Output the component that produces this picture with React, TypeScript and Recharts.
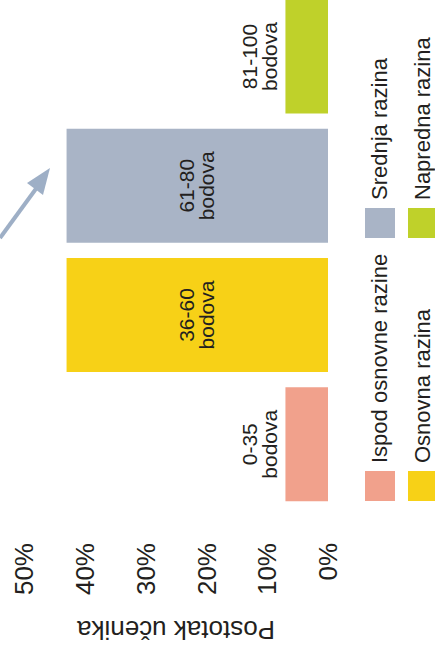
import React from 'react';
import { BarChart, Bar, XAxis, YAxis, Cell, LabelList, Legend } from 'recharts';

const categories = ['Ispod osnovne razine', 'Osnovna razina', 'Srednja razina', 'Napredna razina'];
const scoreRanges = ['0-35', '36-60', '61-80', '81-100'];
const percentages = [7, 43, 43, 7];
const barColors = ['#f1a18c', '#f7d117', '#a9b4c6', '#bfd12a'];
const yTicks = [0, 10, 20, 30, 40, 50];
const axisTitle = 'Postotak učenika';
const unitWord = 'bodova';

const data = categories.map((c, i) => ({ name: c, range: scoreRanges[i], value: percentages[i] }));

const FONT = "Arial, 'Liberation Sans', Helvetica, sans-serif";
const TEXT = '#231f20';

const BarLabel = (props: any) => {
  const { x, y, width, height, index } = props;
  const cx = Number(x) + Number(width) / 2;
  const h = Number(height);
  const top = Number(y);
  let b1: number;
  let b2: number;
  if (h < 80) {
    b2 = top - 8;
    b1 = b2 - 20;
  } else {
    const cy = top + h / 2;
    b1 = cy - 3;
    b2 = cy + 17;
  }
  return (
    <text textAnchor="middle" fontSize={21} fontFamily={FONT} fill={TEXT}>
      <tspan x={cx} y={b1}>{scoreRanges[index]}</tspan>
      <tspan x={cx} y={b2}>{unitWord}</tspan>
    </text>
  );
};

const LegendContent = () => {
  const order = [0, 2, 1, 3];
  return (
    <div
      style={{
        display: 'grid',
        gridTemplateColumns: '263px auto',
        rowGap: 13,
        fontFamily: FONT,
        fontSize: 22,
        color: TEXT,
      }}
    >
      {order.map((i) => (
        <div key={i} style={{ display: 'flex', alignItems: 'center', height: 30, whiteSpace: 'nowrap' }}>
          <span style={{ display: 'inline-block', width: 30, height: 30, background: barColors[i], marginRight: 8 }} />
          <span style={{ lineHeight: '30px' }}>{categories[i]}</span>
        </div>
      ))}
    </div>
  );
};

export default function App() {
  return (
    <div
      style={{
        position: 'fixed',
        left: 0,
        top: 0,
        width: 435,
        height: 654,
        overflow: 'hidden',
        background: '#fff',
      }}
    >
      <div
        style={{
          position: 'absolute',
          left: 0,
          top: 0,
          width: 700,
          height: 435,
          transformOrigin: '0 0',
          transform: 'translateY(654px) rotate(-90deg)',
        }}
      >
        <BarChart
          width={700}
          height={435}
          data={data}
          margin={{ top: 24, right: 38, bottom: 107, left: 0 }}
          barCategoryGap="6%"
        >
          <XAxis dataKey="name" hide />
          <YAxis
            width={145}
            domain={[0, 50]}
            ticks={yTicks}
            interval={0}
            axisLine={false}
            tickLine={false}
            tickSize={6}
            tickMargin={28}
            tickFormatter={(v: number) => `${v}%`}
            tick={{ fontSize: 26, fill: TEXT, fontFamily: FONT }}
            label={{
              value: axisTitle,
              angle: -90,
              position: 'insideLeft',
              offset: 24,
              style: { textAnchor: 'middle', fontSize: 26, fill: TEXT, fontFamily: FONT },
            }}
          />
          <Legend
            layout="vertical"
            align="center"
            verticalAlign="middle"
            content={<LegendContent />}
            wrapperStyle={{ left: 153, top: 365, width: 520 }}
          />
          <Bar dataKey="value" isAnimationActive={false}>
            {data.map((d, i) => (
              <Cell key={d.name} fill={barColors[i]} />
            ))}
            <LabelList dataKey="value" content={BarLabel} />
          </Bar>
        </BarChart>
      </div>
      <svg width={435} height={654} style={{ position: 'absolute', left: 0, top: 0, pointerEvents: 'none' }}>
        <line x1={0} y1={238} x2={38} y2={186} stroke="#9eafc6" strokeWidth={4} />
        <polygon points="50,168 27,183 43,195" fill="#9eafc6" />
      </svg>
    </div>
  );
}
